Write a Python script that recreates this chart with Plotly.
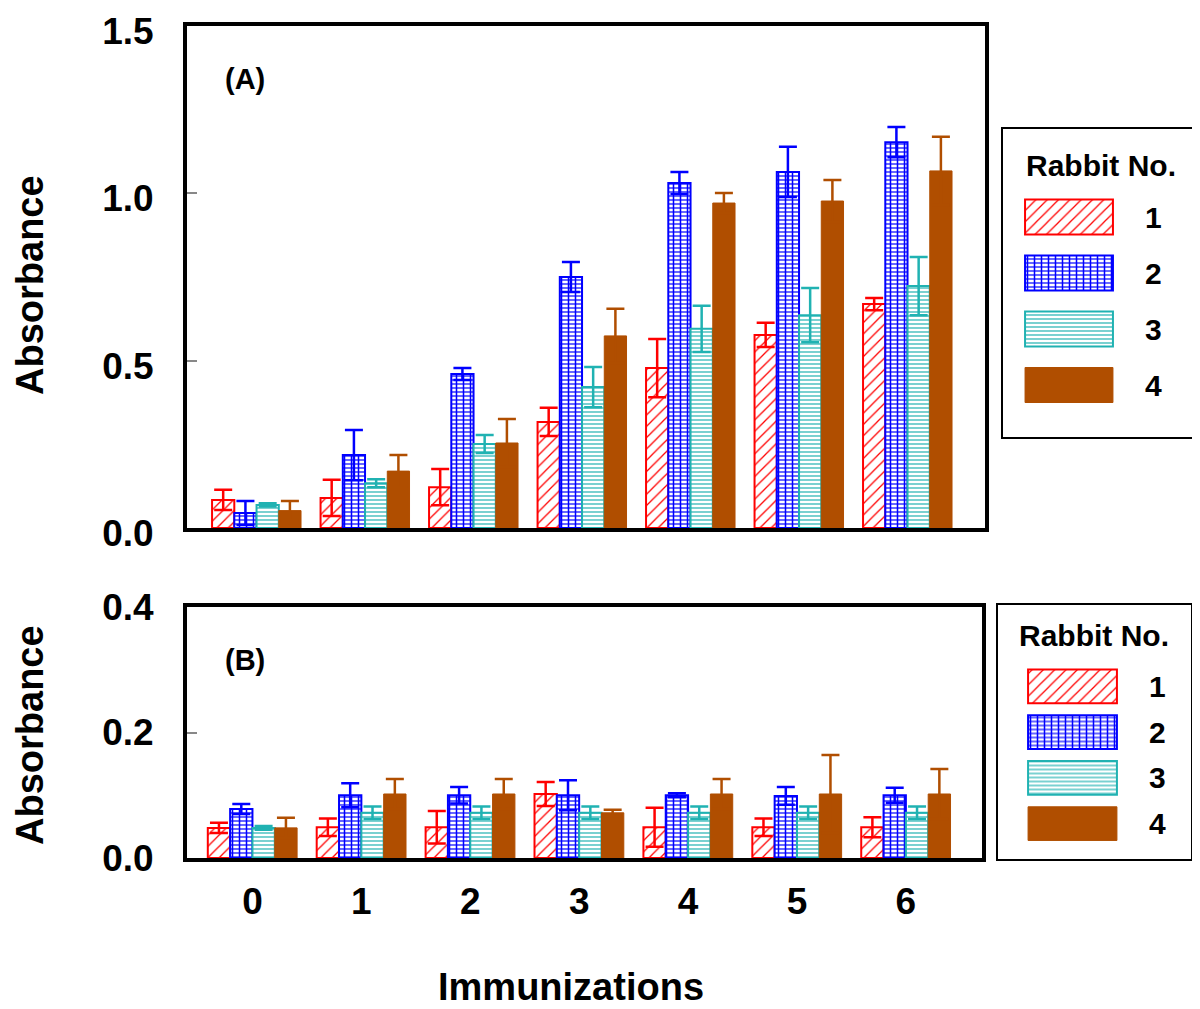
import plotly.graph_objects as go

# ---------------- data ----------------
immunizations = [0, 1, 2, 3, 4, 5, 6]
rabbits = ["1", "2", "3", "4"]

# Panel A
a_r1 = [0.084, 0.090, 0.122, 0.317, 0.478, 0.577, 0.669]
a_r2 = [0.045, 0.218, 0.460, 0.750, 1.031, 1.064, 1.153]
a_r3 = [0.069, 0.134, 0.251, 0.421, 0.595, 0.636, 0.723]
a_r4 = [0.052, 0.170, 0.254, 0.574, 0.971, 0.977, 1.067]
a_e1 = [0.030, 0.054, 0.054, 0.042, 0.087, 0.036, 0.018]
a_e2 = [0.036, 0.075, 0.018, 0.045, 0.033, 0.075, 0.045]
a_e3 = [0.005, 0.012, 0.027, 0.060, 0.069, 0.081, 0.087]
a_e4 = [0.029, 0.048, 0.072, 0.081, 0.030, 0.063, 0.102]

# Panel B
b_r1 = [0.048, 0.049, 0.049, 0.102, 0.049, 0.049, 0.049]
b_r2 = [0.078, 0.100, 0.100, 0.100, 0.100, 0.099, 0.100]
b_r3 = [0.048, 0.072, 0.072, 0.072, 0.072, 0.072, 0.072]
b_r4 = [0.048, 0.102, 0.102, 0.072, 0.102, 0.102, 0.102]
b_e1 = [0.008, 0.014, 0.026, 0.019, 0.031, 0.014, 0.016]
b_e2 = [0.008, 0.019, 0.013, 0.024, 0.003, 0.014, 0.012]
b_e3 = [0.003, 0.010, 0.010, 0.010, 0.010, 0.010, 0.010]
b_e4 = [0.016, 0.024, 0.024, 0.005, 0.024, 0.062, 0.040]

a_tick_vals = [0.0, 0.5, 1.0, 1.5]
b_tick_vals = [0.0, 0.2, 0.4]

# ---------------- styles / geometry ----------------
OFF = 8                       # default page margin of the html body
W, H = 1200 - OFF, 1009 - OFF
FONT = "Liberation Sans, Arial, sans-serif"
RED, BLUE, CYAN, BROWN = "#FF0000", "#0000FF", "#20B2B2", "#B04E00"
styles = [
    dict(color=RED, shape="/", size=8, solidity=0.16),
    dict(color=BLUE, shape="-", size=4, solidity=0.3),
    dict(color=CYAN, shape="-", size=4, solidity=0.3),
    dict(color=BROWN, shape="", size=8, solidity=1.0),
]
BAR_W = 0.205
OFFSETS = [-2 * BAR_W, -BAR_W, 0.0, BAR_W]


def px_x(p):
    return (p - OFF) / W


def px_y(p):
    return 1 - (p - OFF) / H


def marker_for(st):
    if st["shape"]:
        return dict(color="white",
                    line=dict(color=st["color"], width=2),
                    pattern=dict(shape=st["shape"], fgcolor=st["color"], bgcolor="white",
                                 size=st["size"], solidity=st["solidity"], fillmode="replace"))
    return dict(color=st["color"], line=dict(color=st["color"], width=1))


# vertical grid lines on top of series 2 (grid pattern)
grid_marker = dict(color="rgba(0,0,0,0)", line=dict(width=0),
                   pattern=dict(shape="|", fgcolor=BLUE, bgcolor="rgba(0,0,0,0)",
                                size=7, solidity=0.22, fillmode="replace"))

fig = go.Figure()

panels = [
    ([(a_r1, a_e1), (a_r2, a_e2), (a_r3, a_e3), (a_r4, a_e4)], "x", "y"),
    ([(b_r1, b_e1), (b_r2, b_e2), (b_r3, b_e3), (b_r4, b_e4)], "x2", "y2"),
]
for series, xa, ya in panels:
    for i, ((vals, errs), st, name) in enumerate(zip(series, styles, rabbits)):
        fig.add_trace(go.Bar(x=immunizations, y=vals, name=name, marker=marker_for(st),
                             width=BAR_W, offset=OFFSETS[i],
                             error_y=dict(type="data", array=errs, color=st["color"],
                                          thickness=2.5, width=9),
                             xaxis=xa, yaxis=ya, showlegend=False))
        if i == 1:
            fig.add_trace(go.Bar(x=immunizations, y=vals, marker=grid_marker,
                                 width=BAR_W, offset=OFFSETS[i], hoverinfo="skip",
                                 xaxis=xa, yaxis=ya, showlegend=False))

# legend swatches (drawn as horizontal bars in small dedicated axes)
for xa, ya, bw in (("x3", "y3", 0.625), ("x4", "y4", 0.735)):
    for i, (st, name) in enumerate(zip(styles, rabbits)):
        fig.add_trace(go.Bar(x=[1], y=[name], orientation="h", width=bw, marker=marker_for(st),
                             xaxis=xa, yaxis=ya, showlegend=False, hoverinfo="skip"))
        if i == 1:
            fig.add_trace(go.Bar(x=[1], y=[name], orientation="h", width=bw, marker=grid_marker,
                                 xaxis=xa, yaxis=ya, showlegend=False, hoverinfo="skip"))

frame = dict(showline=True, mirror=True, linewidth=4, linecolor="black", showgrid=False,
             zeroline=False, automargin=False, ticklabeloverflow="allow")
tickfont = dict(family=FONT, size=37, color="black", weight="bold")
legfont = dict(family=FONT, size=30, color="black", weight="bold")
legaxis = dict(showgrid=False, zeroline=False, showline=False, ticks="", automargin=False,
               side="right", tickfont=legfont, ticklabelstandoff=30, fixedrange=True,
               ticklabeloverflow="allow")

fig.update_layout(
    width=W, height=H,
    margin=dict(l=0, r=0, t=0, b=0, autoexpand=False),
    paper_bgcolor="white", plot_bgcolor="white",
    barmode="overlay",
    xaxis=dict(domain=[px_x(187), px_x(985)], range=[-0.641, 6.714], anchor="y",
               showticklabels=False, ticks="", **frame),
    yaxis=dict(domain=[px_y(528), px_y(26)], range=[0, 1.5], anchor="x",
               tickvals=a_tick_vals, tickformat=".1f", ticks="inside", ticklen=10,
               tickcolor="#888888", tickwidth=1.5, tickfont=tickfont, ticklabelstandoff=22,
               ticklabelshift=5, **frame),
    xaxis2=dict(domain=[px_x(187), px_x(982)], range=[-0.601, 6.699], anchor="y2",
                tickvals=immunizations, ticks="", tickfont=tickfont, ticklabelstandoff=8, **frame),
    yaxis2=dict(domain=[px_y(858), px_y(607)], range=[0, 0.4], anchor="x2",
                tickvals=b_tick_vals, tickformat=".1f", ticks="inside", ticklen=10,
                tickcolor="#888888", tickwidth=1.5, tickfont=tickfont, ticklabelstandoff=22, **frame),
    xaxis3=dict(domain=[px_x(1024), px_x(1114)], range=[-0.012, 1.012], anchor="y3",
                visible=False, fixedrange=True, automargin=False),
    yaxis3=dict(domain=[px_y(413), px_y(189)], range=[3.5, -0.5], anchor="x3", **legaxis),
    xaxis4=dict(domain=[px_x(1027), px_x(1118)], range=[-0.012, 1.012], anchor="y4",
                visible=False, fixedrange=True, automargin=False),
    yaxis4=dict(domain=[px_y(846.5), px_y(663.5)], range=[3.5, -0.5], anchor="x4", **legaxis),
)

# legend boxes
fig.add_shape(type="rect", xref="paper", yref="paper",
              x0=px_x(1002), x1=px_x(1195), y0=px_y(438), y1=px_y(128),
              line=dict(color="black", width=2), fillcolor="rgba(0,0,0,0)", layer="below")
fig.add_shape(type="rect", xref="paper", yref="paper",
              x0=px_x(997), x1=px_x(1192), y0=px_y(860), y1=px_y(604),
              line=dict(color="black", width=2), fillcolor="rgba(0,0,0,0)", layer="below")

title_font = dict(family=FONT, size=38, color="black", weight="bold")
panel_font = dict(family=FONT, size=29, color="black", weight="bold")
annotations = [
    dict(text="Rabbit No.", x=px_x(1101), y=px_y(165), font=legfont),
    dict(text="Rabbit No.", x=px_x(1094), y=px_y(635), font=legfont),
    dict(text="(A)", x=px_x(245), y=px_y(79), font=panel_font),
    dict(text="(B)", x=px_x(245), y=px_y(660), font=panel_font),
    dict(text="Immunizations", x=px_x(571), y=px_y(987), font=title_font),
    dict(text="Absorbance", x=px_x(30), y=px_y(285), font=title_font, textangle=-90),
    dict(text="Absorbance", x=px_x(30), y=px_y(735), font=title_font, textangle=-90),
]
for a in annotations:
    fig.add_annotation(xref="paper", yref="paper", showarrow=False,
                       xanchor="center", yanchor="middle", **a)

fig.write_html("out.html")
